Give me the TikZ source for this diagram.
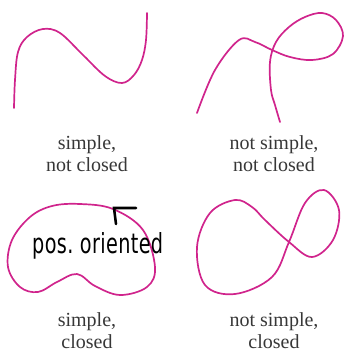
\documentclass[tikz,border=0pt]{standalone}
\usepackage{fontspec}
\setmainfont{Liberation Serif}
\newfontfamily\handfont[LetterSpace=2]{DejaVu Sans}
\definecolor{curvecol}{RGB}{208,36,140}
\definecolor{labelcol}{RGB}{55,55,55}
\begin{document}
\begin{tikzpicture}[x=1pt,y=-1pt,
  crv/.style={draw=curvecol,line width=1.7pt,line cap=round,line join=round},
  lbl/.style={anchor=base,inner sep=0pt,text=labelcol,font=\fontsize{20}{22}\selectfont},
  penstroke/.style={draw=black,line width=2.6pt,line cap=round}]
\useasboundingbox (0,0) rectangle (345,354);
% curve 1: simple, not closed
\draw[crv] plot[smooth,tension=0.6] coordinates {(14,108) (15,80) (18,52) (27,37) (43,29) (60,33) (83,55) (105,76) (122,83) (134,75) (142,60) (146,40) (147,13)};
% curve 2: not simple, not closed
\draw[crv] plot[smooth,tension=0.6] coordinates {(197,113) (215,70) (239,40) (255,42) (272,50) (290,57) (312,60) (333,54) (343,36) (336,20) (322,13) (305,17) (289,27) (276,42) (270,62) (271,90) (275,105) (280,122)};
% curve 3: simple, closed
\draw[crv] plot[smooth cycle,tension=0.6] coordinates {(80,204) (113,209) (143,230) (155,267) (147,287) (120,295) (95,286) (77,274) (57,282) (38,292) (20,287) (8,267) (12,240) (30,217) (52,206)};
% curve 4: not simple, closed
\draw[crv] plot[smooth cycle,tension=0.6] coordinates {(235,200) (252,207) (265,220) (289,242) (312,257) (333,240) (339,210) (324,190) (305,203) (289,242) (272,277) (235,294) (205,285) (197,247) (210,213)};
% labels
\node[lbl] (l1a) at (87,149) {simple,};
\node[lbl] (l1b) at (87,171) {not closed};
\node[lbl] (l2a) at (274,149) {not simple,};
\node[lbl] (l2b) at (274,171) {not closed};
\node[lbl] (l3a) at (87,326) {simple,};
\node[lbl] (l3b) at (87,348) {closed};
\node[lbl] (l4a) at (274,326) {not simple,};
\node[lbl] (l4b) at (274,348) {closed};
% handwritten annotation
\node[anchor=base west,inner sep=0pt,text=black] (hw) at (32,253) {\resizebox{131pt}{21pt}{\handfont\fontsize{22}{24}\selectfont pos.\ oriented}};
\coordinate (m1) at (114,208);
\coordinate (m2) at (136,208);
\coordinate (m3) at (116,224);
\draw[penstroke] (m2) -- (m1) -- (m3);
\end{tikzpicture}
\end{document}
